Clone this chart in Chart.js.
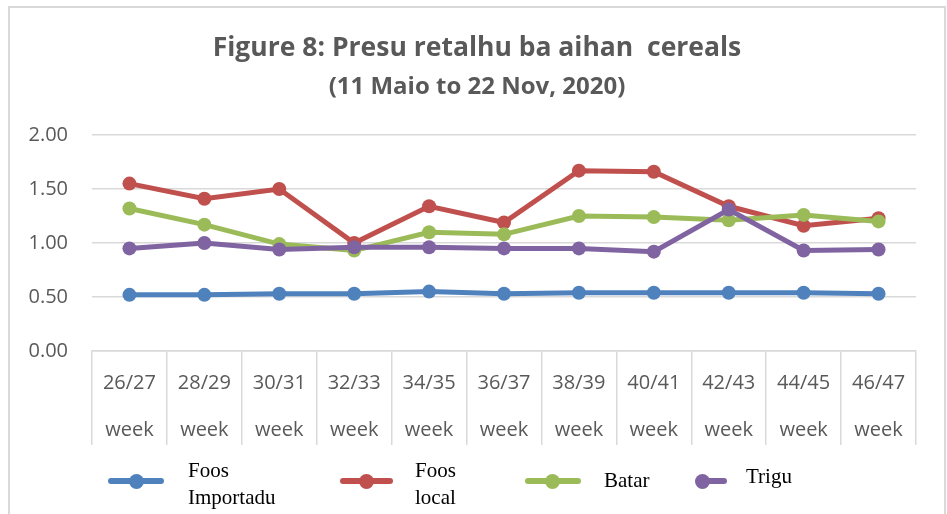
<!DOCTYPE html>
<html>
<head>
<meta charset="utf-8">
<script src="https://cdn.jsdelivr.net/npm/chart.js@4.4.1/dist/chart.umd.min.js"></script>
<style>
  html, body { margin:0; padding:0; background:#fff; width:947px; height:514px; overflow:hidden; }
  #frame { position:absolute; left:8px; top:6px; width:938px; height:560px; box-sizing:border-box; border:2px solid #d9d9d9; }
  #wrap { position:absolute; left:0; top:0; width:947px; height:514px; }
  .lg { position:absolute; font-family:"Liberation Serif","Times New Roman",serif; font-size:21px; color:#000; line-height:27px; }
  .ln { position:absolute; height:6px; border-radius:3px; }
  .dt { position:absolute; width:15px; height:15px; border-radius:50%; }
</style>
</head>
<body>
<div id="frame"></div>
<div id="wrap"><canvas id="c" width="947" height="514"></canvas></div>
<div id="legend"></div>
<script>
// ---- data ----
const weekRanges = ["26/27","28/29","30/31","32/33","34/35","36/37","38/39","40/41","42/43","44/45","46/47"];
const weekWord = "week";
const foosImportadu = [0.52,0.52,0.53,0.53,0.55,0.53,0.54,0.54,0.54,0.54,0.53];
const foosLocal     = [1.55,1.41,1.50,1.00,1.34,1.19,1.67,1.66,1.34,1.16,1.23];
const batar         = [1.32,1.17,0.99,0.93,1.10,1.08,1.25,1.24,1.21,1.26,1.20];
const trigu         = [0.95,1.00,0.94,0.96,0.96,0.95,0.95,0.92,1.31,0.93,0.94];
const seriesNames = ["Foos Importadu","Foos local","Batar","Trigu"];
const titleText = "Figure 8: Presu retalhu ba aihan  cereals";
const subtitleText = "(11 Maio to 22 Nov, 2020)";
const yTicks = [0, 0.5, 1.0, 1.5, 2.0];

const colors = ["#4F81BD","#C0504D","#9BBB59","#8064A2"];
const GRID = "#d9d9d9";
const TXT = "#595959";

const labels = weekRanges.map(w => [w, weekWord]);
const allSeries = [foosImportadu, foosLocal, batar, trigu];

const datasets = allSeries.map((d, i) => ({
  label: seriesNames[i],
  data: d,
  borderColor: colors[i],
  backgroundColor: colors[i],
  borderWidth: 5,
  pointRadius: 7,
  pointHoverRadius: 7,
  pointBorderWidth: 0,
  tension: 0,
  order: 3 - i
}));

new Chart(document.getElementById("c"), {
  type: "line",
  data: { labels, datasets },
  options: {
    responsive: false,
    devicePixelRatio: 1,
    animation: false,
    layout: { padding: { left: 7, right: 0, top: 0, bottom: 63 } },
    plugins: {
      legend: { display: false },
      tooltip: { enabled: false },
      title: {
        display: true, text: titleText, color: TXT,
        font: { family: "'Open Sans'", size: 26.5, weight: "bold", lineHeight: 1.2 },
        padding: { top: 33, bottom: 0 }
      },
      subtitle: {
        display: true, text: subtitleText, color: TXT,
        font: { family: "'Open Sans'", size: 24, weight: "bold", lineHeight: 1.2 },
        padding: { top: 7.5, bottom: 33.9 }
      }
    },
    scales: {
      x: {
        offset: true,
        grid: { offset: true, drawOnChartArea: false, drawTicks: true, tickLength: 94, color: GRID, lineWidth: 1.5 },
        border: { display: true, color: GRID, width: 1.5 },
        ticks: {
          color: TXT, autoSkip: false, maxRotation: 0, padding: -85.5,
          font: { family: "'Open Sans'", size: 20, lineHeight: 2.35 }
        },
        afterFit: s => { s.height = 100; }
      },
      y: {
        min: 0, max: 2,
        afterBuildTicks: s => { s.ticks = yTicks.map(v => ({ value: v })); },
        grid: { drawTicks: false, color: GRID, lineWidth: 1.5 },
        border: { display: false },
        ticks: {
          color: TXT, padding: 24,
          font: { family: "'Open Sans'", size: 20 },
          callback: v => Number(v).toFixed(2)
        },
        afterFit: s => { s.width = 85; }
      },
      yRightSpace: {
        type: "linear",
        position: "right",
        display: true,
        grid: { display: false, drawTicks: false },
        border: { display: false },
        ticks: { display: false },
        afterFit: s => { s.width = 31; }
      }
    }
  }
});

// ---- legend (HTML, serif like the reference) ----
const legendSpec = [
  { lineX: 108, lineW: 56, dotX: 136, textX: 188, text: ["Foos","Importadu"], textTop: 457 },
  { lineX: 340, lineW: 53, dotX: 366, textX: 415, text: ["Foos","local"], textTop: 457 },
  { lineX: 525, lineW: 56, dotX: 552, textX: 604, text: ["Batar"], textTop: 467 },
  { lineX: 697, lineW: 30, dotX: 702, textX: 746, text: ["Trigu"], textTop: 463 }
];
const lg = document.getElementById("legend");
legendSpec.forEach((s, i) => {
  const l = document.createElement("div");
  l.className = "ln"; l.style.left = s.lineX + "px"; l.style.top = "478px";
  l.style.width = s.lineW + "px"; l.style.background = colors[i];
  lg.appendChild(l);
  const d = document.createElement("div");
  d.className = "dt"; d.style.left = (s.dotX - 7.5) + "px"; d.style.top = (481 - 7.5) + "px";
  d.style.background = colors[i];
  lg.appendChild(d);
  const t = document.createElement("div");
  t.className = "lg"; t.style.left = s.textX + "px"; t.style.top = s.textTop + "px";
  t.innerHTML = s.text.join("<br>");
  lg.appendChild(t);
});
</script>
</body>
</html>
